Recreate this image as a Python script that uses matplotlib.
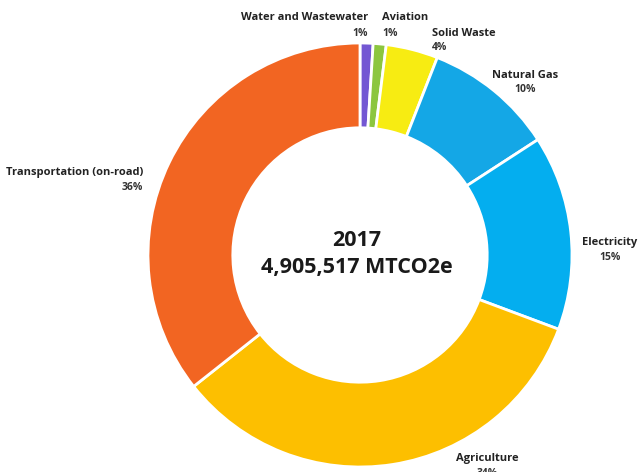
import matplotlib
matplotlib.use('Agg')
import matplotlib.pyplot as plt

categories = ['Water and Wastewater', 'Aviation', 'Solid Waste', 'Natural Gas',
              'Electricity', 'Agriculture', 'Transportation (on-road)']
shares = [1, 1, 4, 10, 15, 34, 36]
colors = ['#7357d3', '#8cc63f', '#f7ec12', '#14a7e6', '#04aeef', '#fdbf00', '#f26522']

year = '2017'
total = '4,905,517 MTCO2e'

# label anchor (pixel coords from top-left) and alignment
label_pos = [(368, 18, 'right'), (382, 18, 'left'), (432, 33, 'left'),
             (525, 75, 'center'), (610, 243, 'center'), (487, 459, 'center'),
             (143, 173, 'right')]

W, H = 642, 472
fig = plt.figure(figsize=(W / 100, H / 100), dpi=100)
ax = fig.add_axes([0, 0, 1, 1])

cx, cy, R = 360, 255, 212

ax.pie(shares, colors=colors, startangle=90, counterclock=False,
       radius=R, center=(cx, H - cy),
       wedgeprops=dict(width=R * 0.4, edgecolor='white', linewidth=2))
ax.set_xlim(0, W)
ax.set_ylim(0, H)
ax.set_aspect('equal')
ax.axis('off')

font = ['Open Sans', 'DejaVu Sans']
for name, val, (x, y, ha) in zip(categories, shares, label_pos):
    ax.text(x, H - y, name, ha=ha, va='center', fontsize=8, fontweight='bold',
            family=font, color='#222222')
    ax.text(x, H - y - 15, f'{val}%', ha=ha, va='center', fontsize=7.5,
            fontweight='bold', family=font, color='#333333')

ax.text(357, H - 240, year, ha='center', va='center', fontsize=15.5,
        fontweight='bold', family=font, color='#1a1a1a')
ax.text(357, H - 268, total, ha='center', va='center', fontsize=15.5,
        fontweight='bold', family=font, color='#1a1a1a')

fig.savefig('out.png', dpi=100)
